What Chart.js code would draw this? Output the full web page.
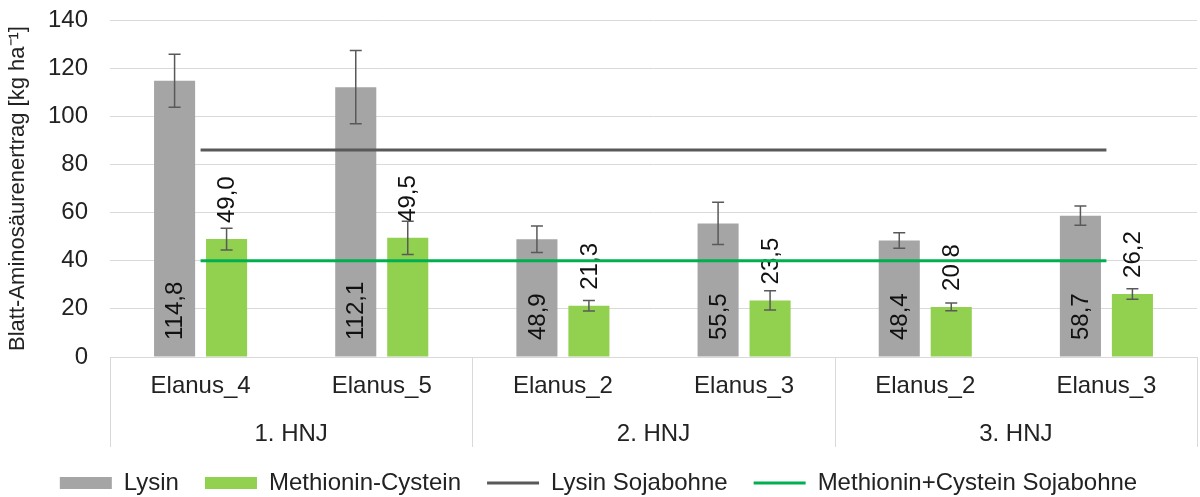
<!DOCTYPE html>
<html>
<head>
<meta charset="utf-8">
<script src="https://cdn.jsdelivr.net/npm/chart.js@4/dist/chart.umd.min.js"></script>
<style>
  html, body { margin: 0; padding: 0; background: #fff; }
  #wrap { width: 1200px; height: 497px; }
</style>
</head>
<body>
<div id="wrap"><canvas id="chart"></canvas></div>
<script>
// Data
const categories = ['Elanus_4', 'Elanus_5', 'Elanus_2', 'Elanus_3', 'Elanus_2', 'Elanus_3'];
const groups = ['1. HNJ', '2. HNJ', '3. HNJ'];
const lysin = [114.8, 112.1, 48.9, 55.5, 48.4, 58.7];
const lysinErr = [11.0, 15.2, 5.5, 8.8, 3.2, 4.0];
const metCys = [49.0, 49.5, 21.3, 23.5, 20.8, 26.2];
const metCysErr = [4.5, 6.9, 2.2, 4.0, 1.6, 2.2];
const lysinSoja = [86, 86, 86, 86, 86, 86];
const metCysSoja = [40, 40, 40, 40, 40, 40];
const yTicks = [0, 20, 40, 60, 80, 100, 120, 140];

const FONT = 'Liberation Sans, Arial, sans-serif';
const TEXT = '#222222';
const GRID = '#d9d9d9';

// Error bars + rotated value labels, drawn right after each bar dataset
const barExtras = {
    id: 'barExtras',
    afterDatasetDraw(chart, args) {
        const ds = chart.data.datasets[args.index];
        if (ds.type !== 'bar') return;
        const ctx = chart.ctx;
        const y = chart.scales.y;
        args.meta.data.forEach((bar, i) => {
            const v = ds.data[i];
            ctx.save();
            ctx.font = '24px ' + FONT;
            ctx.fillStyle = '#111';
            ctx.textAlign = 'left';
            ctx.textBaseline = 'middle';
            const startY = ds.labelAtBase ? y.getPixelForValue(0) - 17 : bar.y - 16;
            ctx.translate(bar.x, startY);
            ctx.rotate(-Math.PI / 2);
            ctx.fillText(v.toFixed(1).replace('.', ','), 0, 1);
            ctx.restore();
        });
    },
    afterDatasetsDraw(chart) {
        const ctx = chart.ctx;
        const y = chart.scales.y;
        ctx.save();
        ctx.strokeStyle = '#595959';
        ctx.lineWidth = 1.5;
        chart.data.datasets.forEach((ds, di) => {
            if (ds.type !== 'bar') return;
            chart.getDatasetMeta(di).data.forEach((bar, i) => {
                const v = ds.data[i];
                const top = y.getPixelForValue(v + ds.errors[i]);
                const bot = y.getPixelForValue(v - ds.errors[i]);
                ctx.beginPath();
                ctx.moveTo(bar.x, top); ctx.lineTo(bar.x, bot);
                ctx.moveTo(bar.x - 6, top); ctx.lineTo(bar.x + 6, top);
                ctx.moveTo(bar.x - 6, bot); ctx.lineTo(bar.x + 6, bot);
                ctx.stroke();
            });
        });
        ctx.restore();
    }
};

// Vertical separators between the HNJ groups on the category axis
const groupLines = {
    id: 'groupLines',
    afterDraw(chart) {
        const ctx = chart.ctx;
        const x = chart.scales.x;
        const x2 = chart.scales.x2;
        ctx.save();
        ctx.strokeStyle = GRID;
        ctx.lineWidth = 1;
        for (let g = 0; g <= groups.length; g++) {
            const px = Math.round(x.getPixelForValue(g * 2 - 0.5)) + 0.5;
            ctx.beginPath();
            ctx.moveTo(px, x.top);
            ctx.lineTo(px, x2.top + 40);
            ctx.stroke();
        }
        ctx.restore();
    }
};

Chart.defaults.font.family = FONT;
Chart.defaults.font.size = 24;
Chart.defaults.color = TEXT;

new Chart(document.getElementById('chart'), {
    data: {
        labels: categories,
        datasets: [
            {
                type: 'bar', label: 'Lysin', data: lysin, errors: lysinErr, labelAtBase: true,
                backgroundColor: '#a5a5a5', pointStyle: 'rect', order: 2,
                categoryPercentage: 0.574, barPercentage: 0.79
            },
            {
                type: 'bar', label: 'Methionin-Cystein', data: metCys, errors: metCysErr, labelAtBase: false,
                backgroundColor: '#92d050', pointStyle: 'rect', order: 2,
                categoryPercentage: 0.574, barPercentage: 0.79
            },
            {
                type: 'line', label: 'Lysin Sojabohne', data: lysinSoja,
                borderColor: '#595959', backgroundColor: '#595959', borderWidth: 3,
                pointRadius: 0, pointStyle: 'line', order: 1
            },
            {
                type: 'line', label: 'Methionin+Cystein Sojabohne', data: metCysSoja,
                borderColor: '#00b050', backgroundColor: '#00b050', borderWidth: 3,
                pointRadius: 0, pointStyle: 'line', order: 1
            }
        ]
    },
    options: {
        responsive: true,
        maintainAspectRatio: false,
        animation: false,
        layout: { padding: { top: 0, right: 3, bottom: -8, left: 0 } },
        plugins: {
            tooltip: { enabled: false },
            legend: {
                position: 'bottom',
                labels: {
                    usePointStyle: true,
                    pointStyleWidth: 52,
                    boxHeight: 12,
                    padding: 26,
                    color: TEXT,
                    font: { size: 24 },
                    sort: (a, b) => a.datasetIndex - b.datasetIndex
                }
            }
        },
        scales: {
            x: {
                grid: { display: false, drawTicks: false },
                border: { display: true, color: GRID },
                ticks: { padding: 15, maxRotation: 0, autoSkip: false },
                afterFit(scale) { scale.height = 50; }
            },
            x2: {
                type: 'category',
                labels: groups,
                offset: true,
                position: 'bottom',
                grid: { display: false, drawTicks: false },
                border: { display: false },
                ticks: { padding: 13, maxRotation: 0 },
                afterFit(scale) { scale.height = 38; }
            },
            y: {
                min: 0, max: 140,
                afterBuildTicks(scale) { scale.ticks = yTicks.map(v => ({ value: v })); },
                grid: { color: GRID, drawTicks: false },
                border: { display: false },
                ticks: { padding: 22 },
                title: {
                    display: true,
                    text: 'Blatt-Aminosäurenertrag [kg ha⁻¹]',
                    font: { size: 22 },
                    color: TEXT,
                    padding: { top: 5, bottom: 0 }
                },
                afterFit(scale) {
                    scale.width = 110;
                    scale.paddingTop = 20;
                    scale.paddingBottom = 14;
                }
            }
        }
    },
    plugins: [barExtras, groupLines]
});
</script>
</body>
</html>
